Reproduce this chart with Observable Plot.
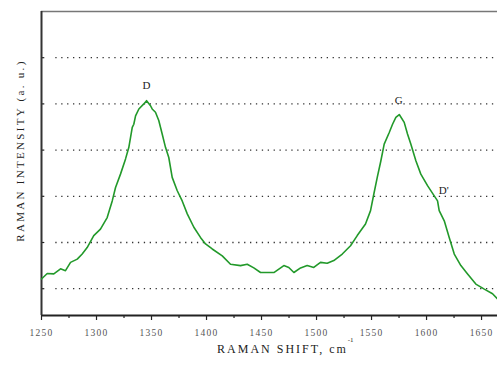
<!DOCTYPE html>
<html>
<head>
<meta charset="utf-8">
<script src="https://cdn.jsdelivr.net/npm/d3@7"></script>
<script src="https://cdn.jsdelivr.net/npm/@observablehq/plot@0.6"></script>
<style>
html, body { margin: 0; padding: 0; background: #fff; }
</style>
</head>
<body>
<div id="chart"></div>
<script>
const shiftCm = [1250,1255.2,1261.2,1267.3,1271.8,1276.4,1282.5,1287,1291.5,1297.5,1303.6,1309.7,1314.3,1317.3,1321.8,1326.4,1329.4,1332.5,1333.9,1335.5,1338.5,1343,1345.5,1349.1,1350.6,1353.6,1356.6,1359.7,1362.7,1365.7,1368.8,1373.4,1377.9,1382.5,1388.5,1394.5,1399.1,1405.2,1414.3,1421.8,1430.9,1437,1443,1449.1,1458.2,1461.2,1470.3,1474.8,1479.4,1485.5,1491.5,1497.5,1503.6,1509.7,1515.7,1523.4,1530.9,1537,1544.5,1549.1,1552.1,1555.2,1558.5,1561.5,1566.1,1569.1,1572.1,1575.2,1579.7,1582.7,1585.7,1590.3,1594.8,1600.9,1607,1610,1611.5,1616.1,1620.6,1625.2,1631.2,1637.3,1644.8,1652.5,1660,1664.5];
const intensity = [121,133,132,143,139,157,164,175,189,215,229,254,290,319,348,381,406,449,456,474,489,500,507,496,489,482,464,435,406,384,341,312,290,262,233,211,197,186,171,153,150,153,145,135,135,135,150,146,135,145,150,146,157,155,161,175,193,215,240,269,305,341,377,413,438,456,471,477,460,435,413,377,348,323,301,290,269,247,211,175,150,132,110,99,89,78];

const xTicks = [1250,1300,1350,1400,1450,1500,1550,1600,1650];
const xMinor = [1275,1325,1375,1425,1475,1525,1575,1625];
const yGrid = [100,200,300,400,500,600];

const peakText = ["D","G","D'"];
const peakX = [1345.5,1574.8,1615.7];
const peakY = [539,507,312];

const xLabel = "RAMAN SHIFT, cm";
const xLabelSup = "-1";
const yLabel = "RAMAN INTENSITY (a. u.)";

const data = shiftCm.map((x, i) => ({x, y: intensity[i]}));
const peaks = peakText.map((t, i) => ({t, x: peakX[i], y: peakY[i]}));

const chart = Plot.plot({
  width: 497,
  height: 365,
  marginTop: 11,
  marginBottom: 50,
  marginLeft: 41,
  marginRight: 0,
  style: {fontFamily: "'Liberation Serif', serif", background: "#fff", overflow: "visible"},
  x: {domain: [1250, 1664.5]},
  y: {domain: [42, 700]},
  marks: [
    Plot.ruleY(yGrid, {x1: 1263, x2: 1664.5, stroke: "#333", strokeWidth: 1.3, strokeDasharray: "1.3,4.6"}),
    Plot.ruleY(yGrid, {x1: 1250, x2: 1253, stroke: "#222", strokeWidth: 1.2}),
    Plot.axisX({ticks: xMinor, tickSize: 3, text: null, stroke: "#222", strokeWidth: 1.2, label: null}),
    Plot.axisX({ticks: xTicks, tickSize: 5, tickPadding: 9, fontSize: 9.5, fill: "#555", stroke: "#222", strokeWidth: 1.2, label: null, tickFormat: d => String(d)}),
    Plot.axisY({ticks: [], label: null}),
    Plot.ruleY([700], {stroke: "#777", strokeWidth: 1.5}),
    Plot.ruleY([42], {stroke: "#222", strokeWidth: 2}),
    Plot.ruleX([1250], {stroke: "#333", strokeWidth: 2}),
    Plot.line(data, {x: "x", y: "y", stroke: "#22992a", strokeWidth: 1.6}),
    Plot.text(peaks, {x: "x", y: "y", text: "t", fontSize: 11, fill: "#222"}),
    Plot.text([xLabel], {x: 1469, frameAnchor: "bottom", dy: 37, text: d => d, fontSize: 12, fill: "#222"}),
    Plot.text([xLabelSup], {x: 1531, frameAnchor: "bottom", dy: 26, text: d => d, fontSize: 7, fill: "#222"}),
    Plot.text([yLabel], {x: 1250, y: 399, dx: -21, rotate: -90, text: d => d, fontSize: 11, fill: "#222"})
  ]
});
d3.select(chart).selectAll("text").each(function() {
  const t = this.textContent;
  let ls = null;
  if (t === xLabel) ls = "2px";
  else if (t === yLabel) ls = "2.3px";
  else if (/^\d{4}$/.test(t)) ls = "1.2px";
  if (ls) {
    this.setAttribute("letter-spacing", ls);
    this.style.letterSpacing = ls;
  }
});
document.getElementById("chart").appendChild(chart);
</script>
</body>
</html>
